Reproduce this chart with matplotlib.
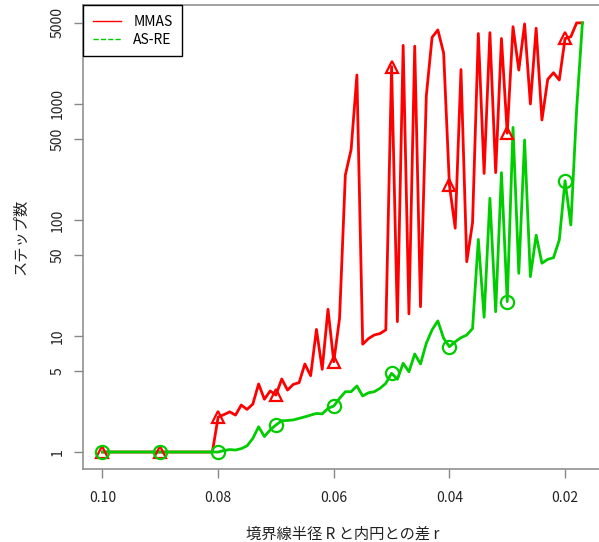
import matplotlib
matplotlib.use("Agg")
import matplotlib.pyplot as plt
from matplotlib.lines import Line2D
import numpy as np

plt.rcParams['font.family'] = ['Noto Sans CJK JP', 'DejaVu Sans']

# r values: 0.100 down to 0.017
r_values = [0.100, 0.099, 0.098, 0.097, 0.096, 0.095, 0.094, 0.093, 0.092, 0.091,
            0.090, 0.089, 0.088, 0.087, 0.086, 0.085, 0.084, 0.083, 0.082, 0.081,
            0.080, 0.079, 0.078, 0.077, 0.076, 0.075, 0.074, 0.073, 0.072, 0.071,
            0.070, 0.069, 0.068, 0.067, 0.066, 0.065, 0.064, 0.063, 0.062, 0.061,
            0.060, 0.059, 0.058, 0.057, 0.056, 0.055, 0.054, 0.053, 0.052, 0.051,
            0.050, 0.049, 0.048, 0.047, 0.046, 0.045, 0.044, 0.043, 0.042, 0.041,
            0.040, 0.039, 0.038, 0.037, 0.036, 0.035, 0.034, 0.033, 0.032, 0.031,
            0.030, 0.029, 0.028, 0.027, 0.026, 0.025, 0.024, 0.023, 0.022, 0.021,
            0.020, 0.019, 0.018, 0.017]

# steps for MMAS (red)
mmas_steps = [1, 1, 1, 1, 1, 1, 1, 1, 1, 1,
              1, 1, 1, 1, 1, 1, 1, 1, 1, 1,
              2.0, 2.1, 2.22, 2.08, 2.54, 2.33, 2.59, 3.86, 2.85, 3.36,
              3.10, 4.26, 3.42, 3.83, 3.96, 5.74, 4.55, 11.4, 5.16, 17.0,
              6.0, 14.2, 244, 405, 1778, 8.5, 9.5, 10.2, 10.5, 11.3,
              2100, 13.3, 3200, 15.5, 3150, 17.9, 1170, 3750, 4350, 2750,
              200, 85, 1980, 43.7, 95, 4050, 252, 4120, 256, 3670,
              560, 4640, 1960, 4900, 1000, 4500, 728, 1630, 1860, 1610,
              3670, 3800, 5000, 5000]

# steps for AS-RE (green)
asre_steps = [1, 1, 1, 1, 1, 1, 1, 1, 1, 1,
              1, 1, 1, 1, 1, 1, 1, 1, 1, 1,
              1, 1.03, 1.05, 1.04, 1.07, 1.13, 1.31, 1.65, 1.36, 1.55,
              1.71, 1.86, 1.87, 1.89, 1.95, 2.01, 2.08, 2.15, 2.13, 2.38,
              2.49, 2.9, 3.31, 3.31, 3.71, 3.04, 3.24, 3.31, 3.54, 3.91,
              4.77, 4.24, 5.82, 4.92, 7.0, 5.74, 8.65, 11.3, 13.5, 9.55,
              8.09, 8.93, 9.67, 10.2, 11.6, 68, 14.5, 154, 16.2, 256,
              19.8, 628, 34.7, 490, 32.5, 74, 42.4, 45.8, 47.3, 67.2,
              218, 90.5, 900, 5000]

marker_every = 10
x_ticks = [0.10, 0.08, 0.06, 0.04, 0.02]
x_ticklabels = ['0.10', '0.08', '0.06', '0.04', '0.02']
y_ticks = [1, 5, 10, 50, 100, 500, 1000, 5000]
y_ticklabels = ['1', '5', '10', '50', '100', '500', '1000', '5000']

red = '#ff0000'
green = '#00cd00'

fig = plt.figure(figsize=(5.99, 5.42), dpi=100)
W, H = 599.0, 542.0
ax = fig.add_axes([83.3 / W, (H - 469.2) / H, (601.6 - 83.3) / W, (469.2 - 5.4) / H])

ax.plot(r_values, mmas_steps, color=red, lw=2.0, zorder=2)
ax.plot(r_values, asre_steps, color=green, lw=2.0, zorder=3)
ax.plot(r_values[::marker_every], mmas_steps[::marker_every], ls='none', marker='^',
        ms=8, mfc='none', mec=red, mew=1.6, zorder=4)
ax.plot(r_values[::marker_every], asre_steps[::marker_every], ls='none', marker='o',
        ms=9.5, mfc='none', mec=green, mew=1.6, zorder=5)

ax.set_yscale('log')
ax.set_xlim(0.10332, 0.01368)
ax.set_ylim(0.711, 7077)
ax.minorticks_off()
ax.set_xticks(x_ticks)
ax.set_xticklabels(x_ticklabels, fontsize=10)
ax.set_yticks(y_ticks)
ax.set_yticklabels(y_ticklabels, fontsize=10, rotation=90, va='center')

for side in ['left', 'bottom', 'top']:
    ax.spines[side].set_color('#888888')
    ax.spines[side].set_linewidth(1.1)
ax.spines['right'].set_visible(False)
ax.tick_params(direction='out', length=6.5, width=1, color='#888888',
               labelcolor='#222222', pad=7)
ax.tick_params(axis='x', pad=9)

ax.set_xlabel('境界線半径 R と内円との差 r', fontsize=11, labelpad=15, color='#222222')
ax.set_ylabel('ステップ数', fontsize=11, labelpad=15, color='#222222')

handles = [Line2D([], [], color=red, lw=1),
           Line2D([], [], color=green, lw=1, ls='--')]
leg = ax.legend(handles, ['MMAS', 'AS-RE'], loc='upper left', borderaxespad=0,
                fancybox=False, edgecolor='black', framealpha=1, fontsize=10,
                handlelength=2.0, handletextpad=0.9, borderpad=0.7, labelspacing=0.25)
leg.get_frame().set_linewidth(1.0)

fig.savefig('out.png', dpi=100)
